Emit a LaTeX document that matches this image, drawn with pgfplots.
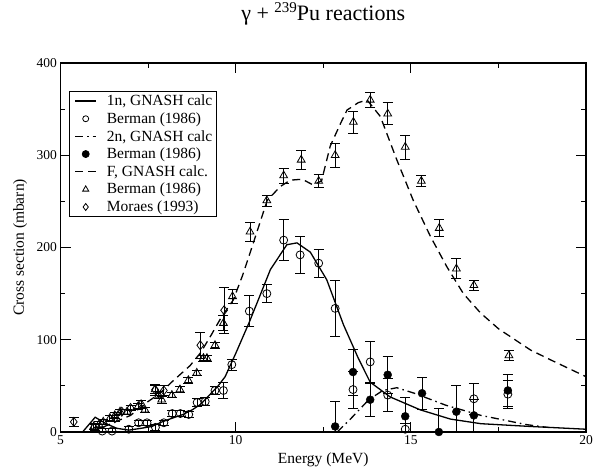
\documentclass[border=0pt]{standalone}
\usepackage{fontspec}
\setmainfont{Liberation Serif}
\usepackage{pgfplots}
\pgfplotsset{compat=1.18}
\begin{document}
\begin{tikzpicture}
\path[use as bounding box] (-60.5pt,-38pt) rectangle (545.5pt,432pt);
\begin{axis}[
  at={(0pt,0pt)}, anchor=south west,
  scale only axis, width=525.5pt, height=369pt,
  xmin=5, xmax=20, ymin=0, ymax=400,
  xtick={5,10,15,20}, ytick={0,100,200,300,400},
  minor x tick num=1, minor y tick num=1,
  tick align=inside, major tick length=10pt, minor tick length=5pt,
  axis line style={line width=1.2pt},
  every tick/.style={black, line width=0.8pt},
  /pgf/number format/assume math mode=true,
  tick label style={font=\fontsize{13.5}{14}\selectfont},
  label style={font=\fontsize{15.5}{17}\selectfont},
  xlabel={Energy (MeV)}, ylabel={Cross section (mbarn)},
  xlabel style={at={(axis description cs:0.5,-0.076)}, anchor=center},
  ylabel style={at={(axis description cs:-0.077,0.5)}, anchor=center},
  title={γ + \raisebox{8.5pt}{\fontsize{15}{15}\selectfont 239}Pu reactions},
  title style={at={(axis description cs:0.5,1.0976)}, anchor=base, font=\fontsize{22}{25}\selectfont},
  legend style={at={(axis description cs:0.0165,0.9245)}, anchor=north west,
    font=\fontsize{15.5}{17}\selectfont, draw=black, line width=0.8pt,
    row sep=1pt, inner xsep=2pt, inner ysep=1.5pt,
    nodes={inner ysep=2.2pt, inner xsep=2pt}},
  legend cell align=left,
  legend image code/.code={\draw[#1] (3pt,0pt) -- (24pt,0pt); \path (0pt,0pt) (32pt,0pt);},
  ebar/.style={only marks,
    error bars/y dir=both, error bars/y explicit,
    error bars/error bar style={line width=0.8pt, black},
    error bars/error mark options={rotate=90, mark size=5pt, line width=0.8pt, black}},
]
% 1n GNASH calc
\addplot[black, line width=1.3pt] coordinates {
(5.5,0) (5.63,0) (5.99,16) (6.3,9) (6.61,4) (6.95,2) (7.3,4) (7.61,6) (7.9,11) (8.19,15) (8.5,19) (8.76,24)
(9.0,30) (9.2,38) (9.5,50) (9.7,60) (10.0,85) (10.4,120) (10.99,176) (11.46,203)
(11.75,205) (12.13,195) (12.6,165) (13.08,116) (13.5,80) (13.84,54) (14.41,38)
(15.27,24) (16.13,14) (17.0,9) (18.41,6) (20,3)};
\addlegendentry{1n, GNASH calc}
% Berman 1n
\addplot[black, mark=o, mark size=4pt, mark options={line width=0.8pt}, ebar,
  legend image code/.code={\draw[mark options={line width=0.8pt}] plot[mark=o, mark size=3pt] coordinates {(13.5pt,0pt)}; \path (0pt,0pt) (32pt,0pt);}]
  table[x=x, y=y, y error=e] {
x y e
5.99 5 3
6.19 1 3
6.47 1 3
6.95 3 3
7.23 10 3
7.47 10 3
7.71 5 3
7.95 10 3
8.19 20 3
8.42 20 3
8.66 19 3
8.90 32 4
9.13 33 4
9.41 45 4
9.65 45 9
9.89 73 6
10.39 131 17
10.89 150 10
11.37 208 22
11.84 192 20
12.37 183 15
12.84 134 30
13.35 46 20
13.84 76 22
14.34 40 18
14.84 3 6
16.80 36 17
17.77 41 15
};
\addlegendentry{Berman (1986)}
% 2n GNASH calc
\addplot[black, line width=1.3pt, dash pattern=on 8pt off 4pt on 1.5pt off 4pt] coordinates {
(12.9,0) (13.3,15) (13.8,35) (14.2,45) (14.6,48) (15.1,42) (16.0,29) (17.0,18) (18.3,8) (18.9,5)};
\addlegendentry{2n, GNASH calc}
% Berman 2n
\addplot[black, mark=*, mark size=4pt, ebar,
  legend image code/.code={\draw plot[mark=*, mark size=3.5pt] coordinates {(13.5pt,0pt)}; \path (0pt,0pt) (32pt,0pt);}]
  table[x=x, y=y, y error=e] {
x y e
12.84 6 27
13.35 65 25
13.84 35 18
14.34 62 20
14.84 17 20
15.32 42 17
15.80 0 26
16.30 22 28
16.80 18 17
17.77 45 17
};
\addlegendentry{Berman (1986)}
% F GNASH calc
\addplot[black, line width=1.3pt, dash pattern=on 8pt off 5pt] coordinates {
(6.2,5) (6.5,10) (7.0,18) (7.5,33) (7.84,42) (8.2,55) (8.7,72) (9.0,86)
(9.3,105) (9.6,125) (9.93,143) (10.2,170) (10.41,194) (10.9,251) (11.27,266)
(11.56,273) (11.9,274) (12.2,268) (12.45,272) (12.7,310) (13.0,335) (13.18,349)
(13.5,357) (13.75,360) (14.13,342) (14.6,295) (15.07,251) (15.56,212) (16.03,179)
(16.5,150) (16.99,129) (17.5,112) (18.41,89) (19.0,78) (20,60)};
\addlegendentry{F, GNASH calc.}
% Berman F
\addplot[black, mark=triangle, mark size=4.5pt, mark options={line width=0.8pt}, ebar,
  legend image code/.code={\draw[mark options={line width=0.8pt}] plot[mark=triangle, mark size=3.5pt] coordinates {(13.5pt,0pt)}; \path (0pt,0pt) (32pt,0pt);}]
  table[x=x, y=y, y error=e] {
x y e
5.95 6 3
6.10 8 3
6.22 11 3
6.41 15 3
6.55 18 3
6.70 22 3
6.90 22 3
7.22 28 3
7.41 24 3
7.70 46 4
7.80 40 4
7.89 35 4
8.18 40 3
8.41 46 3
8.65 56 3
8.89 64 3
9.08 80 3
9.18 80 3
9.41 94 3
9.65 118 8
9.91 147 8
10.41 217 10
10.89 251 6
11.37 278 8
11.87 295 10
12.37 272 7
12.84 300 13
13.36 336 12
13.84 360 8
14.34 345 12
14.84 309 13
15.30 272 6
15.81 221 9
16.30 177 11
16.80 159 5
17.80 83 5
};
\addlegendentry{Berman (1986)}
% Moraes
\addplot[black, mark=diamond, mark size=4.5pt, mark options={line width=0.8pt}, ebar,
  legend image code/.code={\draw[mark options={line width=0.8pt}] plot[mark=diamond, mark size=3.5pt] coordinates {(13.5pt,0pt)}; \path (0pt,0pt) (32pt,0pt);}]
  table[x=x, y=y, y error=e] {
x y e
5.38 11 5
6.55 15 3
6.75 22 3
7.00 26 3
7.30 30 4
7.70 46 6
7.95 45 5
8.99 94 14
9.67 132 25
};
\addlegendentry{Moraes (1993)}
\end{axis}
\end{tikzpicture}
\end{document}
